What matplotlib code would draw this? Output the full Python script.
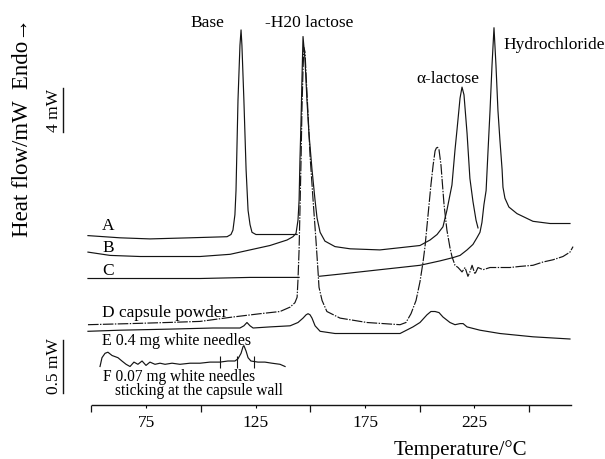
import numpy as np
import matplotlib
matplotlib.use("Agg")
import matplotlib.pyplot as plt
from matplotlib.ticker import FixedLocator, FixedFormatter, NullFormatter

plt.rcParams["font.family"] = ["Liberation Serif", "DejaVu Serif"]

# DSC traces, temperature in °C, heat flow in mW (curves stacked with an offset)
a_temp = [48.5, 63.1, 76.8, 95.1, 112.0, 113.8, 114.7, 115.6, 116.1, 117.0, 117.9,
          118.4, 118.8, 119.7, 120.7, 121.6, 122.5, 123.4, 125.2, 131.6, 144.0]
a_flow = [15.4, 15.2, 15.1, 15.2, 15.3, 15.5, 15.9, 17.3, 19.5, 27.7, 32.7,
          34.1, 32.7, 27.7, 21.4, 17.7, 16.4, 15.7, 15.5, 15.5, 15.5]

b_temp = [48.5, 58.6, 72.3, 86.0, 99.7, 113.4, 122.5, 131.6, 139.4, 142.1, 143.5,
          144.4, 144.9, 145.3, 145.8, 146.2, 146.7, 147.6, 148.5, 149.4, 150.8,
          152.2, 153.1, 154.5, 156.7, 161.3, 168.2, 181.8, 191.0, 200.1, 204.7,
          207.9, 210.6, 212.4, 213.8, 214.7, 216.1, 217.0, 218.4, 219.3, 220.2,
          221.6, 222.9, 224.3, 225.7, 226.6]
b_flow = [13.9, 13.6, 13.5, 13.5, 13.5, 13.7, 14.1, 14.5, 15.0, 15.3, 15.6,
          16.8, 18.6, 22.3, 25.9, 29.5, 33.5, 31.4, 27.7, 24.7, 21.4,
          18.6, 17.0, 15.7, 14.9, 14.4, 14.2, 14.1, 14.3, 14.5, 15.0,
          15.5, 16.2, 17.7, 19.1, 20.0, 23.2, 25.0, 27.9, 28.9, 28.2,
          24.7, 20.6, 18.5, 16.8, 16.1]

c_temp = [48.5, 76.8, 99.7, 122.5, 144.9, np.nan, 154.0, 163.6, 172.7, 181.8,
          191.0, 200.1, 209.2, 215.2, 218.4, 221.6, 224.3, 226.1, 227.5, 228.4,
          229.3, 230.3, 231.2, 232.1, 233.0, 233.9, 234.8, 235.7, 236.6, 237.6,
          238.0, 238.9, 240.7, 244.4, 251.7, 259.5, 268.6]
c_flow = [11.5, 11.5, 11.5, 11.6, 11.6, np.nan, 11.7, 11.9, 12.1, 12.3,
          12.5, 12.7, 13.1, 13.4, 13.6, 14.1, 14.6, 15.2, 15.7, 16.6,
          18.2, 19.5, 23.2, 26.8, 30.9, 34.3, 30.9, 26.8, 24.1, 21.4,
          19.8, 18.8, 18.0, 17.4, 16.7, 16.5, 16.5]

d_temp = [48.5, 67.7, 84.6, 99.7, 114.7, 127.1, 136.2, 140.8, 143.0, 144.0,
          144.4, 144.9, 145.3, 145.8, 146.2, 146.7, 147.1, 147.6, 148.1, 149.0,
          149.9, 151.3, 152.6, 153.5, 154.0, 155.4, 157.6, 163.6, 175.9, 191.0,
          193.7, 196.0, 198.3, 200.1, 201.5, 202.4, 203.8, 205.1, 206.1, 207.0,
          207.9, 208.8, 209.7, 210.2, 211.1, 212.4, 213.8, 214.7, 216.1, 217.5,
          219.3, 220.7, 222.0, 222.9, 223.9, 225.2, 226.6, 228.9, 232.1, 236.6,
          241.2, 245.8, 251.7, 256.3, 260.8, 265.4, 268.6, 270.0]
d_flow = [7.3, 7.4, 7.5, 7.6, 8.0, 8.3, 8.5, 8.9, 9.3, 9.8,
          11.4, 14.1, 17.7, 22.3, 26.8, 30.5, 32.5, 32.1, 30.0, 26.4,
          22.7, 18.6, 15.0, 12.3, 10.7, 9.5, 8.5, 7.9, 7.5, 7.3,
          7.5, 8.3, 9.5, 11.2, 13.0, 14.4, 17.3, 20.0, 21.8, 23.1,
          23.5, 23.2, 21.8, 20.5, 18.2, 15.9, 14.3, 13.5, 12.7, 12.5,
          12.1, 12.5, 11.7, 12.1, 12.7, 11.9, 12.5, 12.3, 12.5, 12.5,
          12.5, 12.6, 12.7, 13.0, 13.2, 13.5, 13.9, 14.4]

e_temp = [48.5, 63.1, 86.0, 105.6, 117.9, 119.7, 121.1, 122.5, 123.9, 131.6,
          140.8, 144.4, 146.7, 148.1, 149.0, 149.9, 150.8, 152.2, 154.5, 161.3,
          172.7, 191.0, 196.9, 200.1, 203.3, 205.1, 207.0, 208.8, 210.6, 213.8,
          216.1, 218.4, 219.8, 221.6, 227.5, 236.6, 251.7, 268.6]
e_flow = [6.7, 6.8, 6.9, 7.0, 7.0, 7.2, 7.5, 7.2, 7.0, 7.1,
          7.2, 7.5, 7.9, 8.2, 8.3, 8.2, 7.9, 7.2, 6.7, 6.5,
          6.5, 6.5, 7.1, 7.5, 8.2, 8.5, 8.5, 8.4, 8.0, 7.5,
          7.3, 7.4, 7.4, 7.1, 6.8, 6.5, 6.2, 6.0]

f_temp = [54.0, 54.9, 56.3, 57.6, 59.5, 62.2, 64.0, 65.9, 67.7, 69.5, 71.3,
          73.2, 75.0, 76.8, 79.1, 81.4, 83.7, 86.9, 90.5, 95.1, 99.7, 104.2,
          108.8, 112.4, 115.6, 117.0, 118.4, 119.3, 119.7, 120.7, 121.6, 122.9,
          126.1, 129.3, 132.5, 136.2, 138.5]
f_flow = [3.5, 4.3, 4.7, 4.8, 4.5, 4.3, 4.0, 3.7, 3.5, 3.9, 3.7,
          4.0, 3.6, 3.9, 3.7, 3.8, 3.7, 3.8, 3.7, 3.8, 3.8, 3.9,
          3.9, 4.0, 4.0, 4.2, 4.7, 5.3, 5.4, 4.9, 4.3, 4.0,
          3.9, 3.9, 3.8, 3.7, 3.5]
# integration limits marked on trace F
f_marks = [108.8, 116.6, 124.3]

curve_labels = ["A", "B", "C", "D capsule powder", "E 0.4 mg white needles",
                "F 0.07 mg white needles", "sticking at the capsule wall"]
label_temps = [54.9, 54.9, 54.9, 54.9, 54.9, 55.4, 60.8]
label_levels = [15.9, 13.9, 11.8, 8.0, 5.45, 2.2, 0.9]
label_sizes = [12.5, 12.5, 12.5, 12.5, 11.5, 11.2, 11.2]

peak_names = ["Base", "-H20 lactose", "\u03b1-lactose", "Hydrochloride"]
peak_temps = [95.1, 129.3, 198.3, 238.0]
peak_levels = [34.36, 34.36, 29.27, 32.4]

major_ticks = [50, 100, 150, 200, 250]
label_ticks = [75, 125, 175, 225]

SMALL_GAIN = 9.6  # E and F are drawn magnified against the 0.5 mW bar

ink = "#141414"
fig = plt.figure(figsize=(6.05, 4.59), dpi=100)
ax = fig.add_axes([0, 54 / 459, 1, 405 / 459])
ax.set_xlim(8.33, 284.59)
ax.set_ylim(0, 36.82)

lw = 0.85
ax.plot(a_temp, a_flow, color=ink, lw=lw, clip_on=False)
ax.plot(b_temp, b_flow, color=ink, lw=lw, clip_on=False)
ax.plot(c_temp, c_flow, color=ink, lw=lw, clip_on=False)
ax.plot(d_temp, d_flow, color=ink, lw=lw, clip_on=False, dashes=(9, 1.2, 1.2, 1.2))
ax.plot(e_temp, e_flow, color=ink, lw=lw, clip_on=False)
ax.plot(f_temp, f_flow, color=ink, lw=lw, clip_on=False)
ax.vlines(f_marks, 3.35, 4.45, color=ink, lw=0.8)

for name, t, lvl, size in zip(curve_labels, label_temps, label_levels, label_sizes):
    ax.text(t, lvl, name, fontsize=size, va="baseline", ha="left")

for name, t, lvl in zip(peak_names, peak_temps, peak_levels):
    ax.text(t, lvl, name, fontsize=12.5, va="baseline", ha="left")

# scale bars
bar_t = 37.1
ax.plot([bar_t, bar_t], [24.8, 24.8 + 4.0], color=ink, lw=1.0, clip_on=False)
ax.text(32.9, 26.8, "4 mW", rotation=90, fontsize=12.5, ha="center", va="center")
ax.plot([bar_t, bar_t], [1.1, 1.1 + 0.5 * SMALL_GAIN], color=ink, lw=1.0, clip_on=False)
ax.text(32.9, 3.55, "0.5 mW", rotation=90, fontsize=12.5, ha="center", va="center")

ax.text(18.8, 25.2, "Heat flow/mW  Endo\u2192", rotation=90, fontsize=16.5,
        ha="center", va="center")

for side in ("top", "left", "right"):
    ax.spines[side].set_visible(False)
ax.spines["bottom"].set_bounds(50.3, 269.0)
ax.spines["bottom"].set_linewidth(1.0)
ax.spines["bottom"].set_color(ink)
ax.set_yticks([])
ax.xaxis.set_major_locator(FixedLocator(major_ticks))
ax.xaxis.set_major_formatter(NullFormatter())
ax.xaxis.set_minor_locator(FixedLocator(label_ticks))
ax.xaxis.set_minor_formatter(FixedFormatter([str(t) for t in label_ticks]))
ax.tick_params(axis="x", which="major", length=5, width=0.9, direction="out", colors=ink)
ax.tick_params(axis="x", which="minor", length=2, width=0.8, pad=5.5, labelsize=12.5)

ax.text(218.4, -4.55, "Temperature/\u00b0C", fontsize=15, ha="center", va="baseline")

fig.savefig("out.png", dpi=100)
